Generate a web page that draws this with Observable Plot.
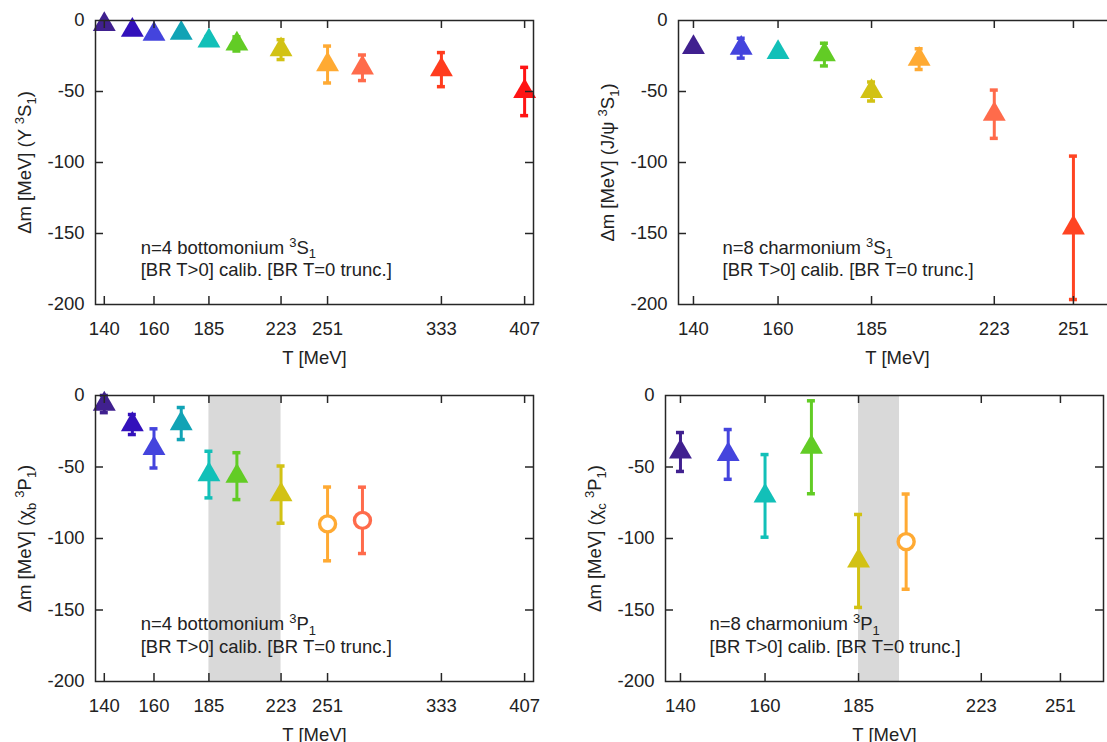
<!DOCTYPE html>
<html>
<head>
<meta charset="utf-8">
<script src="https://cdn.jsdelivr.net/npm/d3@7"></script>
<script src="https://cdn.jsdelivr.net/npm/@observablehq/plot@0.6"></script>
<style>
  html, body { margin: 0; padding: 0; background: #fff; overflow: hidden; }
  #chart { position: relative; width: 1107px; height: 742px; overflow: hidden; background: #fff; }
  .panel { position: absolute; }
</style>
</head>
<body>
<div id="chart"></div>
<script>
// ---------------- data ----------------
const X_TICKS_BOTTOM = [140, 160, 185, 223, 251, 333, 407];
const X_TICKS_CHARM = [140, 160, 185, 223, 251];
const Y_TICKS = [0, -50, -100, -150, -200];

// n=4 bottomonium 3S1
const bS_T   = [140, 151, 160, 172, 185, 199, 223, 251, 274, 333, 407];
const bS_dm  = [-2.8, -6.8, -9.6, -8.9, -14.3, -16.5, -20.5, -31, -33.3, -34.6, -50];
const bS_err = [2, 2, 2, 2, 3, 5, 7, 13, 9, 12, 17];

// n=8 charmonium 3S1
const cS_T   = [140, 151, 160, 172, 185, 199, 223, 251];
const cS_dm  = [-19, -19.5, -22.5, -24, -50, -27.2, -66, -146];
const cS_err = [2, 7, 2, 8, 6.7, 7.3, 17, 50.5];

// n=4 bottomonium 3P1
const bP_T    = [140, 151, 160, 172, 185, 199, 223, 251, 274];
const bP_dm   = [-6, -20.3, -37, -19.6, -55.3, -56.4, -69.3, -89.8, -87.3];
const bP_err  = [6, 7, 13.7, 11.2, 16.3, 16.4, 20, 25.8, 23.2];
const bP_open = [0, 0, 0, 0, 0, 0, 0, 1, 1];
const bP_band = [185, 223];

// n=8 charmonium 3P1
const cP_T    = [140, 151, 160, 172, 185, 199];
const cP_dm   = [-39.5, -41.2, -70.2, -36.2, -115.7, -102.2];
const cP_err  = [13.6, 17.4, 28.9, 32.5, 32.5, 33.3];
const cP_open = [0, 0, 0, 0, 0, 1];
const cP_band = [185, 197];

// colours (per point order)
const PAL_B = ["#40208f", "#3311bb", "#4444dd", "#11a3b5", "#12c0b8", "#62cc25", "#d2c214", "#ffaa33", "#ff6b4b", "#ff3c1e", "#ff1414"];
const PAL_C = ["#40208f", "#4444dd", "#12c0b8", "#62cc25", "#d2c214", "#ffaa33", "#ff6b4b", "#ff4422"];

// ---------------- helpers ----------------
const FONT = "'Liberation Sans', Arial, Helvetica, sans-serif";
const FS = 18.5;
const INK = "#262626";

function richify(svg) {
  svg.querySelectorAll("text").forEach(t => {
    if (t.querySelector("tspan")) return;
    const s = t.textContent;
    if (!/[\^_]\{/.test(s)) return;
    const parts = s.split(/(\^\{[^}]*\}|_\{[^}]*\})/).filter(p => p !== "");
    t.textContent = "";
    let cur = 0;
    for (const p of parts) {
      const ts = document.createElementNS("http://www.w3.org/2000/svg", "tspan");
      let target = 0, txt = p, small = false;
      if (p.startsWith("^{")) { target = -7; txt = p.slice(2, -1); small = true; }
      else if (p.startsWith("_{")) { target = 4.5; txt = p.slice(2, -1); small = true; }
      if (target !== cur) ts.setAttribute("dy", target - cur);
      cur = target;
      if (small) ts.setAttribute("font-size", "13px");
      ts.textContent = txt;
      t.appendChild(ts);
    }
  });
}

function panel(o) {
  const data = o.T.map((t, i) => ({T: t, dm: o.dm[i], err: o.err[i], open: !!(o.open && o.open[i])}));
  const frameH = o.height - o.mT - o.mB;
  const frameW = 438;
  const width = o.mL + frameW + o.mR;
  const tick = 8;
  const marks = [];
  if (o.band) {
    marks.push(Plot.rect([o.band], {x1: d => d[0], x2: d => d[1], y1: -200, y2: 0, fill: "#d9d9d9"}));
  }
  // error bars
  marks.push(Plot.ruleX(data, {x: "T", y1: d => d.dm - d.err, y2: d => d.dm + d.err, stroke: "T", strokeWidth: 3}));
  marks.push(Plot.ruleY(data, {y: d => d.dm - d.err, x1: "T", x2: "T", insetLeft: -4, insetRight: -4, stroke: "T", strokeWidth: 3.5}));
  marks.push(Plot.ruleY(data, {y: d => d.dm + d.err, x1: "T", x2: "T", insetLeft: -4, insetRight: -4, stroke: "T", strokeWidth: 3.5}));
  // points
  marks.push(Plot.dot(data.filter(d => !d.open), {x: "T", y: "dm", symbol: "triangle", r: 8.5, fill: "T", stroke: "none"}));
  marks.push(Plot.dot(data.filter(d => d.open), {x: "T", y: "dm", r: 8, fill: "white", stroke: "T", strokeWidth: 3.4}));
  // frame and inward ticks
  marks.push(Plot.frame({stroke: INK, strokeWidth: 1.5}));
  marks.push(Plot.ruleX(o.xTicks, {x: d => d, insetTop: frameH - tick, stroke: INK, strokeWidth: 1.5}));
  marks.push(Plot.ruleX(o.xTicks, {x: d => d, insetBottom: frameH - tick, stroke: INK, strokeWidth: 1.5}));
  const innerY = Y_TICKS.filter(v => v !== 0 && v !== -200);
  marks.push(Plot.ruleY(innerY, {y: d => d, insetRight: frameW - tick, stroke: INK, strokeWidth: 1.5}));
  marks.push(Plot.ruleY(innerY, {y: d => d, insetLeft: frameW - tick, stroke: INK, strokeWidth: 1.5}));
  // axes
  marks.push(Plot.axisX({ticks: o.xTicks, tickFormat: d => String(d), tickSize: 0, tickPadding: 17, label: null, anchor: "bottom"}));
  marks.push(Plot.axisY({ticks: Y_TICKS, tickFormat: d => String(d), tickSize: 0, tickPadding: 11, label: null, anchor: "left"}));
  // axis titles
  marks.push(Plot.text(["T [MeV]"], {frameAnchor: "bottom", dy: 54, text: d => d, textAnchor: "middle", lineAnchor: "middle"}));
  marks.push(Plot.text([o.ylabel], {frameAnchor: "left", dx: -70, rotate: -90, text: d => d, textAnchor: "middle", lineAnchor: "middle"}));
  // annotation
  marks.push(Plot.text([o.line1], {x: o.textX, y: -160, text: d => d, textAnchor: "start"}));
  marks.push(Plot.text(["[BR T>0] calib. [BR T=0 trunc.]"], {x: o.textX, y: -176, text: d => d, textAnchor: "start"}));

  const svg = Plot.plot({
    width,
    height: o.height,
    marginLeft: o.mL, marginRight: o.mR, marginTop: o.mT, marginBottom: o.mB,
    style: {fontFamily: FONT, fontSize: FS + "px", color: "#222", background: "transparent", maxWidth: "none", overflow: "visible"},
    x: {type: "pow", exponent: 0.12, domain: o.xDomain},
    y: {domain: [-200, 0]},
    color: {type: "ordinal", domain: o.colorDomain, range: o.palette},
    marks
  });
  richify(svg);
  const wrap = document.createElement("div");
  wrap.className = "panel";
  wrap.style.left = o.left + "px";
  wrap.style.top = o.top + "px";
  wrap.appendChild(svg);
  document.getElementById("chart").appendChild(wrap);
}

const DOM_B = [136.7, 415.7];
const DOM_C = [136.7, 267.5];

panel({left: 0, top: 0, height: 370, mL: 95, mR: 27, mT: 20, mB: 66,
  T: bS_T, dm: bS_dm, err: bS_err, xDomain: DOM_B, xTicks: X_TICKS_BOTTOM,
  colorDomain: bS_T, palette: PAL_B, textX: 154.4,
  ylabel: "Δm [MeV] (Υ ^{3}S_{1})", line1: "n=4 bottomonium ^{3}S_{1}"});

panel({left: 560, top: 0, height: 370, mL: 118, mR: 24, mT: 20, mB: 66,
  T: cS_T, dm: cS_dm, err: cS_err, xDomain: DOM_C, xTicks: X_TICKS_CHARM,
  colorDomain: cS_T, palette: PAL_C, textX: 146.6,
  ylabel: "Δm [MeV] (J/ψ ^{3}S_{1})", line1: "n=8 charmonium ^{3}S_{1}"});

panel({left: 0, top: 370, height: 372, mL: 95, mR: 27, mT: 25, mB: 61,
  T: bP_T, dm: bP_dm, err: bP_err, open: bP_open, band: bP_band, xDomain: DOM_B, xTicks: X_TICKS_BOTTOM,
  colorDomain: bS_T, palette: PAL_B, textX: 154.4,
  ylabel: "Δm [MeV] (χ_{b} ^{3}P_{1})", line1: "n=4 bottomonium ^{3}P_{1}"});

panel({left: 560, top: 370, height: 372, mL: 105, mR: 37, mT: 25, mB: 61,
  T: cP_T, dm: cP_dm, err: cP_err, open: cP_open, band: cP_band, xDomain: DOM_C, xTicks: X_TICKS_CHARM,
  colorDomain: cS_T, palette: PAL_C, textX: 146.6,
  ylabel: "Δm [MeV] (χ_{c} ^{3}P_{1})", line1: "n=8 charmonium ^{3}P_{1}"});
</script>
</body>
</html>
